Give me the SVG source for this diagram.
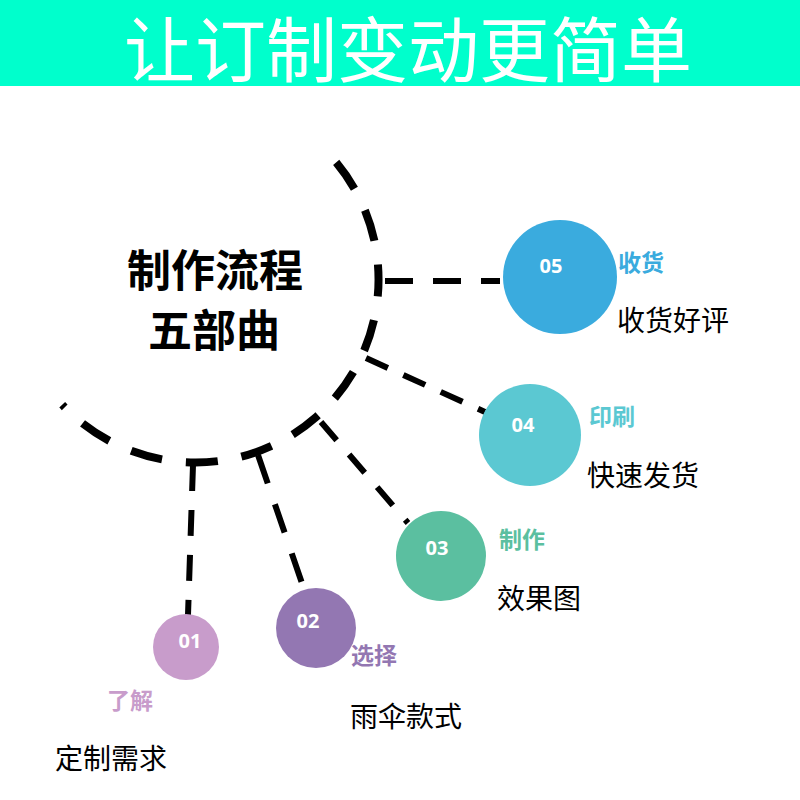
<svg xmlns="http://www.w3.org/2000/svg" width="800" height="800" viewBox="0 0 800 800">
<style>
.cjk{font-family:"Noto Sans CJK SC","Noto Sans",sans-serif}
.num{font-family:"Open Sans","Noto Sans",sans-serif;font-weight:bold;font-size:20px;fill:#ffffff;text-anchor:middle}
.tag{font-family:"Noto Sans CJK SC",sans-serif;font-weight:bold;font-size:23px}
.desc{font-family:"Noto Sans CJK SC",sans-serif;font-size:28px;fill:#000000}
.conn{fill:none;stroke:#000000;stroke-width:6}
</style>
<rect x="0" y="0" width="800" height="86" fill="#00FFCC"/>
<text x="408" y="76" font-size="71" fill="#ffffff" text-anchor="middle" class="cjk">让订制变动更简单</text>
<g id="hub">
<path d="M336.2,162.4 A183,183 0 0 1 62.2,404.8" fill="none" stroke="#000" stroke-width="8" stroke-dasharray="32 24"/>
<text x="215" y="287" font-size="44" font-weight="bold" text-anchor="middle" class="cjk">制作流程</text>
<text x="214" y="347" font-size="44" font-weight="bold" text-anchor="middle" class="cjk">五部曲</text>
</g>
<g id="connectors">
<path class="conn" d="M385,281 L500,281" stroke-dasharray="28 20"/>
<path class="conn" d="M366,358 L485,412" stroke-dasharray="24 17"/>
<path class="conn" d="M321,422 L408,523" stroke-dasharray="24 19"/>
<path class="conn" d="M258,455 L305,592" stroke-dasharray="30 22"/>
<path class="conn" d="M193,465 L188,615" stroke-dasharray="26 19"/>
</g>
<g id="step05">
<circle cx="560" cy="277" r="57" fill="#3AABDE"/>
<text x="551" y="273" class="num">05</text>
<text x="618" y="271" class="tag" fill="#3AABDE">收货</text>
<text x="617" y="331" class="desc">收货好评</text>
</g>
<g id="step04">
<circle cx="530" cy="435" r="51" fill="#5BC8D2"/>
<text x="523" y="432" class="num">04</text>
<text x="589" y="425" class="tag" fill="#5BC8D2">印刷</text>
<text x="587" y="486" class="desc">快速发货</text>
</g>
<g id="step03">
<circle cx="441" cy="556" r="45" fill="#5BBFA0"/>
<text x="437" y="555" class="num">03</text>
<text x="499" y="548" class="tag" fill="#5BBFA0">制作</text>
<text x="497" y="609" class="desc">效果图</text>
</g>
<g id="step02">
<circle cx="316" cy="628" r="40" fill="#9377B2"/>
<text x="308" y="628" class="num">02</text>
<text x="351" y="664" class="tag" fill="#9377B2">选择</text>
<text x="350" y="727" class="desc">雨伞款式</text>
</g>
<g id="step01">
<circle cx="186" cy="647" r="33" fill="#C89CCB"/>
<text x="190" y="648" class="num">01</text>
<text x="107" y="709" class="tag" fill="#C89CCB">了解</text>
<text x="55" y="769" class="desc">定制需求</text>
</g>
</svg>
